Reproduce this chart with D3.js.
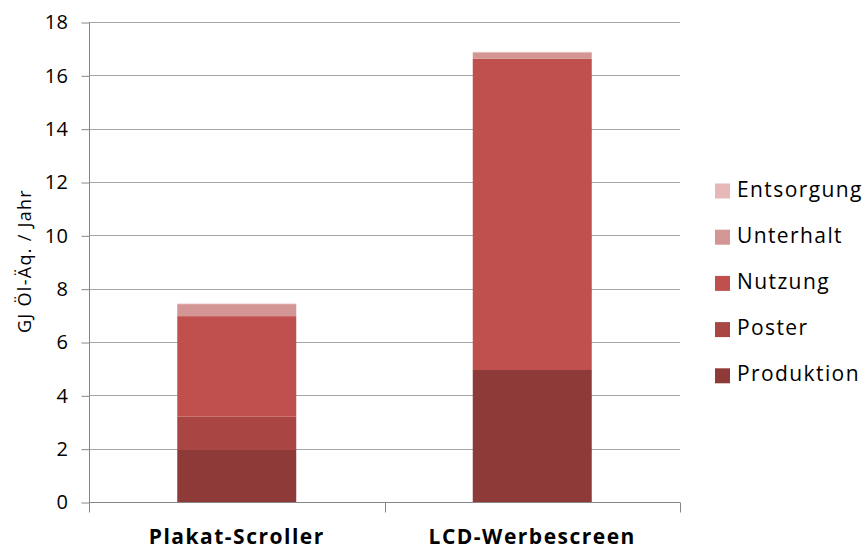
<!DOCTYPE html>
<html><head><meta charset="utf-8">
<script src="https://cdn.jsdelivr.net/npm/d3@7"></script>
<style>body{margin:0;background:#fff}svg{display:block}text{font-family:"Open Sans","Noto Sans",sans-serif;fill:#000}</style>
</head><body><svg id="c" width="867" height="549"></svg>
<script>
const categories = ["Plakat-Scroller", "LCD-Werbescreen"];
const seriesNames = ["Produktion", "Poster", "Nutzung", "Unterhalt", "Entsorgung"];
const produktion = [1.95, 4.95];
const poster = [1.25, 0];
const nutzung = [3.77, 11.67];
const unterhalt = [0.45, 0.24];
const entsorgung = [0.02, 0.02];
const yTicks = [0, 2, 4, 6, 8, 10, 12, 14, 16, 18];
const colors = ["#8E3A38", "#A94644", "#C0504D", "#D49694", "#E6B9B8"];

(function () {
const values = [produktion, poster, nutzung, unterhalt, entsorgung];
const rows = categories.map((c, i) => {
  const r = {cat: c};
  seriesNames.forEach((s, k) => r[s] = values[k][i]);
  return r;
});
const stacked = d3.stack().keys(seriesNames)(rows);

const svg = d3.select("#c");
const pLeft = 89, pRight = 680, pTop = 22, pBottom = 502;
const x = d3.scaleBand().domain(categories).range([pLeft, pRight]).paddingInner(0).paddingOuter(0);
const y = d3.scaleLinear().domain([0, 18]).range([pBottom, pTop]);

// gridlines
svg.append("g").selectAll("line").data(yTicks.filter(t => t > 0)).join("line")
  .attr("x1", pLeft).attr("x2", pRight)
  .attr("y1", d => Math.round(y(d)) + 0.5).attr("y2", d => Math.round(y(d)) + 0.5)
  .attr("stroke", "#a6a6a6").attr("stroke-width", 1);

// bars
const bw = 119;
svg.append("g").selectAll("g").data(stacked).join("g")
  .attr("fill", (d, i) => colors[i])
  .selectAll("rect").data(d => d).join("rect")
  .attr("x", d => x(d.data.cat) + x.bandwidth() / 2 - bw / 2)
  .attr("width", bw)
  .attr("y", d => y(d[1]))
  .attr("height", d => Math.max(0, y(d[0]) - y(d[1])));

// y axis
const yAxis = d3.axisLeft(y).tickValues(yTicks).tickSize(8).tickPadding(13).tickFormat(d3.format("d"));
const gy = svg.append("g").attr("transform", `translate(${pLeft + 0.5},0.5)`).call(yAxis);
gy.select(".domain").attr("stroke", "#868686").attr("d", `M0,${pTop}V${pBottom}`);
gy.selectAll(".tick line").attr("stroke", "#868686");
gy.selectAll(".tick text").attr("font-size", 20).attr("font-family", "Open Sans")
  .attr("letter-spacing", "0.5px").attr("fill", "#000");

// x axis
const gx = svg.append("g").attr("transform", `translate(0,${pBottom + 0.5})`);
gx.append("line").attr("x1", pLeft).attr("x2", pRight).attr("stroke", "#868686");
const bounds = [pLeft, x(categories[1]), pRight];
gx.selectAll("line.t").data(bounds).join("line").attr("class", "t")
  .attr("x1", d => Math.round(d) + 0.5).attr("x2", d => Math.round(d) + 0.5)
  .attr("y1", 0).attr("y2", 10).attr("stroke", "#868686");
gx.selectAll("text").data(categories).join("text")
  .attr("x", d => x(d) + x.bandwidth() / 2)
  .attr("y", 41.5).attr("text-anchor", "middle")
  .attr("font-size", 21).attr("font-weight", "bold").attr("letter-spacing", "1.5px").text(d => d);

// y label
svg.append("text").attr("transform", "translate(30.5,261) rotate(-90)")
  .attr("text-anchor", "middle").attr("font-size", 18).attr("letter-spacing", "1.3px")
  .text("GJ Öl-Äq. / Jahr");

// legend
const legendOrder = seriesNames.slice().reverse();
const lg = svg.append("g").selectAll("g").data(legendOrder).join("g")
  .attr("transform", (d, i) => `translate(715,${191 + i * 46.2})`);
lg.append("rect").attr("x", 0).attr("y", -7.5).attr("width", 15).attr("height", 15)
  .attr("fill", d => colors[seriesNames.indexOf(d)]);
lg.append("text").attr("x", 22).attr("y", 5.5).attr("font-size", 21)
  .attr("letter-spacing", "1.4px").text(d => d);
})();
</script></body></html>
